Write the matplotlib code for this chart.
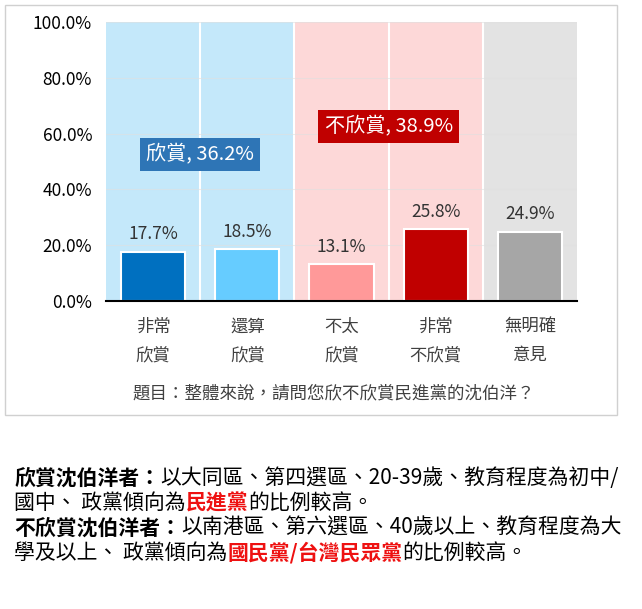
import matplotlib
matplotlib.use('Agg')
import matplotlib.pyplot as plt
from matplotlib.patches import Rectangle

plt.rcParams['font.family'] = ['Noto Sans CJK TC', 'DejaVu Sans']

categories = ['非常\n欣賞', '還算\n欣賞', '不太\n欣賞', '非常\n不欣賞', '無明確\n意見']
values = [17.7, 18.5, 13.1, 25.8, 24.9]
bar_colors = ['#0070c0', '#66ccff', '#ff9999', '#c00000', '#a6a6a6']
bg_colors = ['#c4e8fa', '#c4e8fa', '#fdd8d8', '#fdd8d8', '#e3e3e3']
yticks = [0, 20, 40, 60, 80, 100]
question = '題目：整體來說，請問您欣不欣賞民進黨的沈伯洋？'
group_labels = [('欣賞, 36.2%', 0.5, 52.5, '#2e75b6'),
                ('不欣賞, 38.9%', 2.5, 62.5, '#c00000')]
notes = [
    [('欣賞沈伯洋者：', 'bold', 'black'),
     ('以大同區、第四選區、20-39歲、教育程度為初中/', 'normal', 'black')],
    [('國中、 政黨傾向為', 'normal', 'black'), ('民進黨', 'bold', '#ee1111'),
     ('的比例較高。', 'normal', 'black')],
    [('不欣賞沈伯洋者：', 'bold', 'black'),
     ('以南港區、第六選區、40歲以上、教育程度為大', 'normal', 'black')],
    [('學及以上、 政黨傾向為', 'normal', 'black'), ('國民黨/台灣民眾黨', 'bold', '#ee1111'),
     ('的比例較高。', 'normal', 'black')],
]

W, H = 642, 609
fig = plt.figure(figsize=(W / 100, H / 100), dpi=100)
fig.patches.append(Rectangle((5 / W, 1 - 415 / H), 612 / W, 410 / H,
                             transform=fig.transFigure, fill=False,
                             edgecolor='#d0d0d0', linewidth=1))

ax = fig.add_axes([106 / W, 1 - 301 / H, 471 / W, 279 / H])
x = list(range(len(values)))
for i, c in enumerate(bg_colors):
    ax.axvspan(i - 0.5, i + 0.5, color=c, zorder=0, linewidth=0)
for i in range(1, len(values)):
    ax.axvline(i - 0.5, color='white', linewidth=1.5, zorder=1)
for t in yticks[1:]:
    ax.axhline(t, color='#e0e0e0', linewidth=0.8, alpha=0.6, zorder=1)
ax.bar(x, values, width=0.68, color=bar_colors, edgecolor='white',
       linewidth=1.5, zorder=2)
for xi, v in zip(x, values):
    ax.text(xi, v + 3, f'{v}%', ha='center', va='bottom', fontsize=12.5,
            color='#333333')
for txt, gx, gy, col in group_labels:
    ax.text(gx, gy, txt, ha='center', va='center', fontsize=14.5, color='white',
            bbox=dict(boxstyle='square,pad=0.3', facecolor=col, edgecolor='none'))

ax.set_xlim(-0.5, len(values) - 0.5)
ax.set_ylim(0, 100)
ax.set_yticks(yticks)
ax.set_yticklabels([f'{t:.1f}%' for t in yticks], fontsize=12.5)
ax.set_xticks(x)
ax.set_xticklabels(categories, fontsize=12.5, color='#404040', linespacing=1.75)
ax.tick_params(length=0, pad=10)
ax.tick_params(axis='x', pad=12)
for s in ['top', 'right', 'left']:
    ax.spines[s].set_visible(False)
ax.spines['bottom'].set_linewidth(1.5)
ax.spines['bottom'].set_zorder(3)

fig.text(334 / W, 1 - 393 / H, question, ha='center', va='center',
         fontsize=12.6, color='#404040')

# notes below chart, drawn as sequential runs
fig.canvas.draw()
renderer = fig.canvas.get_renderer()
line_y = [478, 503, 528, 553]
for runs, yy in zip(notes, line_y):
    xpos = 14
    for txt, weight, col in runs:
        t = fig.text(xpos / W, 1 - yy / H, txt, ha='left', va='center',
                     fontsize=15, fontweight=weight, color=col)
        xpos += t.get_window_extent(renderer).width

fig.savefig('out.png', dpi=100)
